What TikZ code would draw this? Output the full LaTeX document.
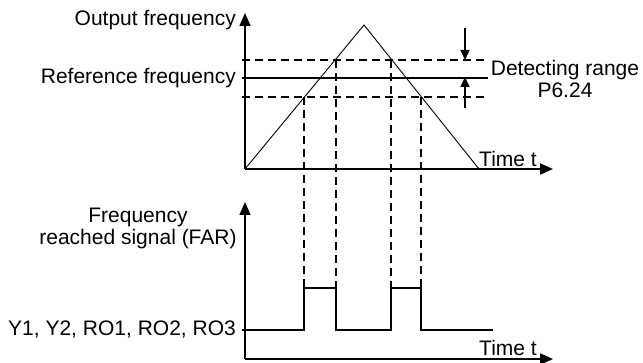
\documentclass[tikz,border=0pt]{standalone}
\usepackage{fontspec}
\setmainfont{Liberation Sans}
\usetikzlibrary{arrows.meta}

\begin{document}
\begin{tikzpicture}
		[
		x=1pt, y=-1pt, font=\fontsize{21}{22}\selectfont, >={Triangle[length=13pt,width=11pt]},
		%Voreinstellungen
		achse/.style={line width=1.9pt},
		strich/.style={dash pattern=on 8pt off 5pt, line width=1.9pt},
		signal/.style={line width=2pt},
		pfeilchen/.style={-{Triangle[length=10pt,width=9pt]}, line width=1.5pt},
		beschr/.style={inner sep=0pt}
		]
		\useasboundingbox (0,0) rectangle (643,363);
		
		%Ursprung oben und unten
		\coordinate (O1) at (245,169);
		\coordinate (O2) at (245,359);
		\coordinate (x1) at (553,169);
		\coordinate (y1) at (245,13);
		\coordinate (x2) at (553,359);
		\coordinate (y2) at (245,202);
		
		%Achsen
		\draw [->, achse] (O1) -- (x1);
		\draw [->, line width=1.4pt] (O1) -- (y1);
		\draw [->, achse] (O2) -- (x2);
		\draw [->, line width=1.4pt] (O2) -- (y2);
		
		%Ausgangsfrequenz (Dreieck)
		\coordinate (spitze) at (364,25);
		\coordinate (ende) at (479,169);
		\draw [line width=0.9pt] (O1) -- (spitze) -- (ende);
		
		%Referenzfrequenz und Erfassungsbereich
		\draw [line width=1.9pt] (242,78) -- (488,78);
		\foreach \y in {60,97}
		\draw [strich] (242,\y) -- (488,\y);
		
		%senkrechte Hilfslinien
		\foreach \x/\y in {304/97, 336/60, 391/60, 421/97}
		\draw [strich] (\x,\y) -- (\x,288);
		
		%Pfeile Erfassungsbereich
		\draw [pfeilchen] (465,28) -- (465,60);
		\draw [pfeilchen] (465,108) -- (465,77);
		
		%Signal FAR
		\draw [signal] (242,330) -- (304,330) -- (304,288) -- (336,288) -- (336,330) -- (391,330) -- (391,288) -- (421,288) -- (421,330) -- (493,330);
		
		%Beschriftung
		\node [beschr, anchor=east] (ausgang) at (236,20) {Output frequency};
		\node [beschr, anchor=east] (referenz) at (236,78) {Reference frequency};
		\node [beschr, align=center] (bereich) at (565,79) {Detecting range\\P6.24};
		\node [beschr, anchor=base west] (zeit1) at (479,167) {Time t};
		\node [beschr, align=center] (far) at (138,228) {Frequency\\reached signal (FAR)};
		\node [beschr, anchor=east] (ausg) at (236,330) {Y1, Y2, RO1, RO2, RO3};
		\node [beschr, anchor=base west] (zeit2) at (479,356) {Time t};
		
	\end{tikzpicture}
\end{document}
